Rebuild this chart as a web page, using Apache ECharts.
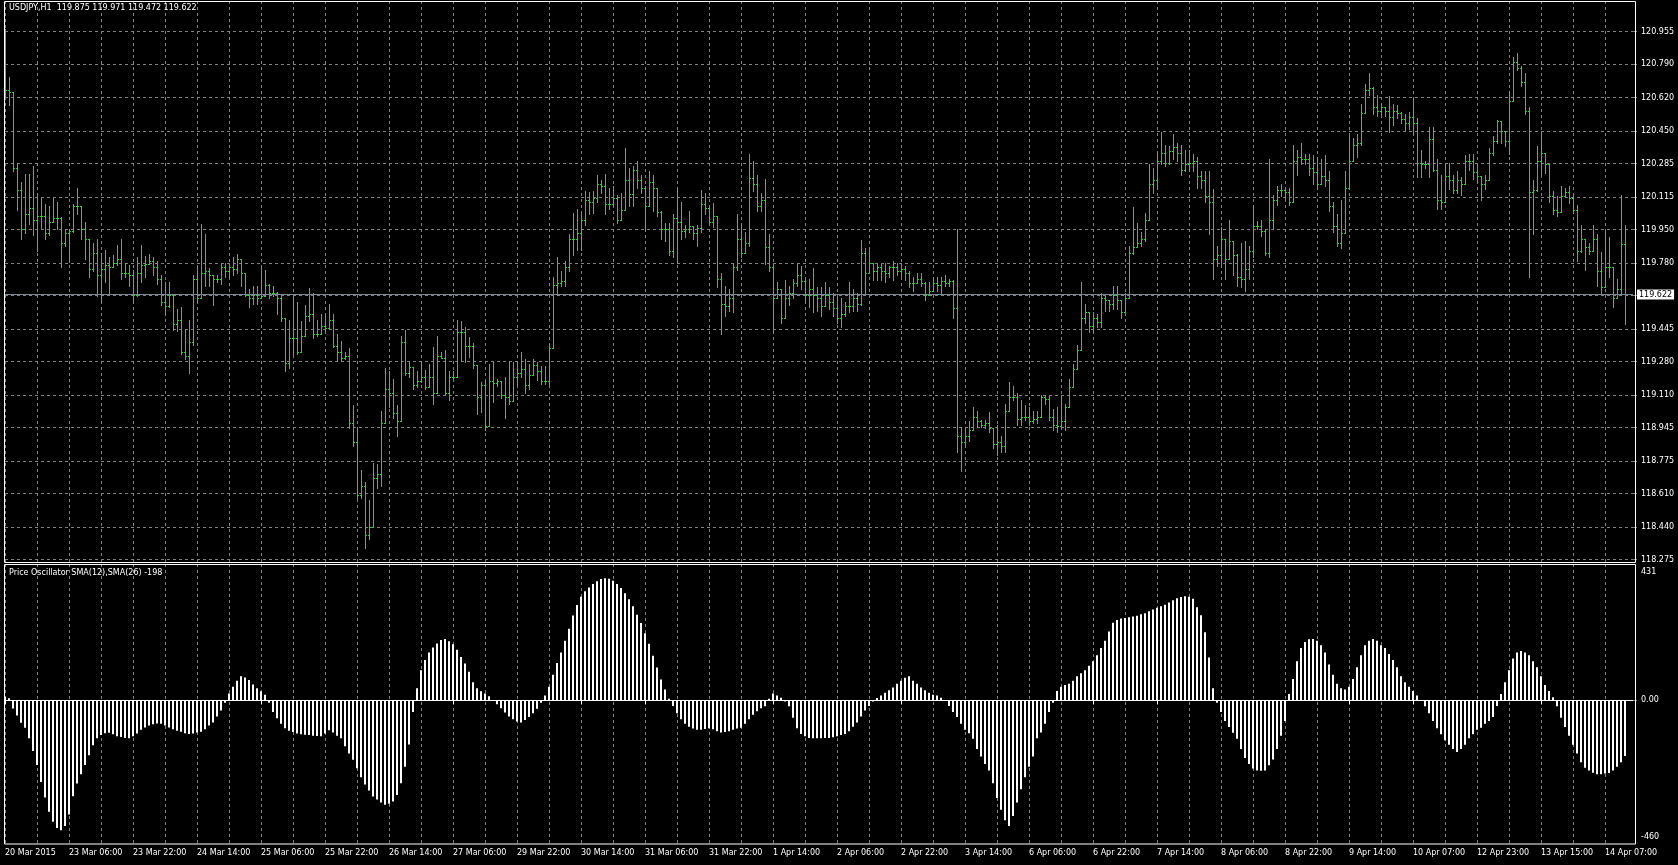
<!DOCTYPE html>
<html>
<head>
<meta charset="utf-8">
<title>USDJPY,H1</title>
<script src="https://cdn.jsdelivr.net/npm/echarts@6/dist/echarts.min.js"></script>
<style>
    html, body { margin: 0; padding: 0; background: #000; }
    #chart { width: 1678px; height: 865px; }
</style>
</head>
<body>
<div id="chart"></div>
<script>
// bottom time scale, one label every 16 hourly bars
var timeLabels = ['20 Mar 2015', '23 Mar 06:00', '23 Mar 22:00', '24 Mar 14:00', '25 Mar 06:00', '25 Mar 22:00',
    '26 Mar 14:00', '27 Mar 06:00', '29 Mar 22:00', '30 Mar 14:00', '31 Mar 06:00', '31 Mar 22:00', '1 Apr 14:00',
    '2 Apr 06:00', '2 Apr 22:00', '3 Apr 14:00', '6 Apr 06:00', '6 Apr 22:00', '7 Apr 14:00', '8 Apr 06:00',
    '8 Apr 22:00', '9 Apr 14:00', '10 Apr 07:00', '12 Apr 23:00', '13 Apr 15:00', '14 Apr 07:00'];

var closes = [
    120.66, 120.65, 120.26, 120.15, 119.95, 120.03, 120.06, 120.00, 120.02, 120.02,
    119.93, 119.99, 120.01, 120.01, 119.88, 119.93, 119.94, 120.07, 120.07, 119.95,
    119.90, 119.75, 119.83, 119.72, 119.75, 119.77, 119.76, 119.78, 119.80, 119.73,
    119.73, 119.72, 119.62, 119.73, 119.77, 119.775, 119.79, 119.76, 119.70, 119.58,
    119.56, 119.62, 119.47, 119.49, 119.33, 119.31, 119.38, 119.70, 119.60, 119.73,
    119.74, 119.72, 119.70, 119.70, 119.76, 119.74, 119.76, 119.75, 119.80, 119.73,
    119.62, 119.60, 119.62, 119.60, 119.61, 119.67, 119.63, 119.63, 119.60, 119.50,
    119.27, 119.40, 119.40, 119.33, 119.41, 119.51, 119.52, 119.42, 119.42, 119.46,
    119.45, 119.49, 119.36, 119.33, 119.30, 119.31, 118.97, 118.87, 118.60, 118.65,
    118.40, 118.44, 118.69, 118.71, 118.97, 119.14, 119.12, 119.02, 118.98, 119.38,
    119.22, 119.25, 119.16, 119.18, 119.20, 119.15, 119.20, 119.12, 119.31, 119.30,
    119.12, 119.20, 119.20, 119.43, 119.43, 119.36, 119.36, 119.26, 119.10, 119.16,
    118.95, 119.18, 119.17, 119.18, 119.11, 119.10, 119.08, 119.20, 119.22, 119.24,
    119.16, 119.21, 119.26, 119.23, 119.18, 119.18, 119.35, 119.67, 119.68, 119.69,
    119.76, 119.90, 119.90, 119.93, 120.00, 120.10, 120.09, 120.11, 120.18, 120.17,
    120.08, 120.08, 120.11, 120.00, 120.05, 120.20, 120.13, 120.25, 120.20, 120.16,
    120.07, 120.19, 120.16, 120.04, 119.95, 119.95, 119.84, 120.01, 119.99, 119.94,
    119.95, 119.97, 119.93, 119.96, 120.08, 120.06, 119.99, 120.02, 119.70, 119.57,
    119.56, 119.60, 119.76, 119.90, 119.83, 119.88, 120.21, 120.18, 120.07, 120.10,
    119.86, 119.76, 119.60, 119.65, 119.50, 119.60, 119.63, 119.68, 119.72, 119.69,
    119.62, 119.65, 119.62, 119.60, 119.56, 119.62, 119.58, 119.55, 119.50, 119.52,
    119.56, 119.56, 119.60, 119.57, 119.83, 119.73, 119.78, 119.74, 119.76, 119.74,
    119.73, 119.76, 119.76, 119.74, 119.75, 119.73, 119.68, 119.68, 119.70, 119.68,
    119.62, 119.64, 119.68, 119.67, 119.69, 119.68, 119.69, 119.55, 118.90, 118.87,
    118.90, 118.93, 119.00, 118.98, 118.96, 118.97, 118.94, 118.86, 118.87, 118.85,
    119.03, 119.10, 119.10, 118.99, 119.00, 119.00, 118.98, 118.99, 119.00, 119.10,
    119.09, 119.00, 118.96, 118.95, 118.98, 119.05, 119.15, 119.24, 119.34, 119.50,
    119.53, 119.46, 119.50, 119.48, 119.60, 119.59, 119.57, 119.62, 119.59, 119.53,
    119.60, 119.83, 119.86, 119.88, 119.90, 120.00, 120.18, 120.20, 120.30, 120.34,
    120.29, 120.35, 120.37, 120.34, 120.25, 120.28, 120.29, 120.30, 120.22, 120.20,
    120.12, 120.09, 119.80, 119.82, 119.90, 119.80, 119.89, 119.82, 119.71, 119.70,
    119.75, 119.84, 119.97, 119.97, 119.94, 119.83, 120.00, 120.10, 120.15, 120.15,
    120.14, 120.09, 120.30, 120.32, 120.31, 120.31, 120.26, 120.24, 120.18, 120.22,
    120.20, 120.07, 119.97, 119.88, 119.93, 120.16, 120.30, 120.38, 120.39, 120.54,
    120.66, 120.67, 120.57, 120.55, 120.57, 120.55, 120.52, 120.55, 120.54, 120.51,
    120.49, 120.52, 120.49, 120.29, 120.28, 120.28, 120.41, 120.25, 120.10, 120.09,
    120.22, 120.20, 120.15, 120.20, 120.18, 120.30, 120.30, 120.24, 120.22, 120.18,
    120.20, 120.34, 120.40, 120.50, 120.45, 120.40, 120.60, 120.80, 120.77, 120.70,
    120.55, 120.14, 120.15, 120.30, 120.34, 120.28, 120.12, 120.05, 120.04, 120.12,
    120.14, 120.11, 120.05, 119.84, 119.90, 119.86, 119.84, 119.90, 119.74, 119.66,
    119.76, 119.76, 119.60, 119.65, 119.875, 119.622
];

var opens = [
    120.95, 120.66, 120.65, 120.26, 120.15, 119.95, 120.03, 120.06, 120.00, 120.02,
    120.02, 119.93, 119.99, 120.01, 120.01, 119.88, 119.93, 119.94, 120.07, 120.07,
    119.95, 119.90, 119.75, 119.83, 119.72, 119.75, 119.77, 119.76, 119.78, 119.80,
    119.73, 119.73, 119.72, 119.62, 119.73, 119.77, 119.775, 119.79, 119.76, 119.70,
    119.58, 119.56, 119.62, 119.47, 119.49, 119.33, 119.31, 119.38, 119.70, 119.60,
    119.73, 119.74, 119.72, 119.70, 119.70, 119.76, 119.74, 119.76, 119.75, 119.80,
    119.73, 119.62, 119.60, 119.62, 119.60, 119.61, 119.67, 119.63, 119.63, 119.60,
    119.50, 119.27, 119.40, 119.40, 119.33, 119.41, 119.51, 119.52, 119.42, 119.42,
    119.46, 119.45, 119.49, 119.36, 119.33, 119.30, 119.31, 118.97, 118.87, 118.60,
    118.65, 118.40, 118.44, 118.69, 118.71, 118.97, 119.14, 119.12, 119.02, 118.98,
    119.38, 119.22, 119.25, 119.16, 119.18, 119.20, 119.15, 119.20, 119.12, 119.31,
    119.30, 119.12, 119.20, 119.20, 119.43, 119.43, 119.36, 119.36, 119.26, 119.10,
    119.16, 118.95, 119.18, 119.17, 119.18, 119.11, 119.10, 119.08, 119.20, 119.22,
    119.24, 119.16, 119.21, 119.26, 119.23, 119.18, 119.18, 119.35, 119.67, 119.68,
    119.69, 119.76, 119.90, 119.90, 119.93, 120.00, 120.10, 120.09, 120.11, 120.18,
    120.17, 120.08, 120.08, 120.11, 120.00, 120.05, 120.20, 120.13, 120.25, 120.20,
    120.16, 120.07, 120.19, 120.16, 120.04, 119.95, 119.95, 119.84, 120.01, 119.99,
    119.94, 119.95, 119.97, 119.93, 119.96, 120.08, 120.06, 119.99, 120.02, 119.70,
    119.57, 119.56, 119.60, 119.76, 119.90, 119.83, 119.88, 120.21, 120.18, 120.07,
    120.10, 119.86, 119.76, 119.60, 119.65, 119.50, 119.60, 119.63, 119.68, 119.72,
    119.69, 119.62, 119.65, 119.62, 119.60, 119.56, 119.62, 119.58, 119.55, 119.50,
    119.52, 119.56, 119.56, 119.60, 119.57, 119.83, 119.73, 119.78, 119.74, 119.76,
    119.74, 119.73, 119.76, 119.76, 119.74, 119.75, 119.73, 119.68, 119.68, 119.70,
    119.68, 119.62, 119.64, 119.68, 119.67, 119.69, 119.68, 119.69, 119.55, 118.90,
    118.87, 118.90, 118.93, 119.00, 118.98, 118.96, 118.97, 118.94, 118.86, 118.87,
    118.85, 119.03, 119.10, 119.10, 118.99, 119.00, 119.00, 118.98, 118.99, 119.00,
    119.10, 119.09, 119.00, 118.96, 118.95, 118.98, 119.05, 119.15, 119.24, 119.34,
    119.50, 119.53, 119.46, 119.50, 119.48, 119.60, 119.59, 119.57, 119.62, 119.59,
    119.53, 119.60, 119.83, 119.86, 119.88, 119.90, 120.00, 120.18, 120.20, 120.30,
    120.34, 120.29, 120.35, 120.37, 120.34, 120.25, 120.28, 120.29, 120.30, 120.22,
    120.20, 120.12, 120.09, 119.80, 119.82, 119.90, 119.80, 119.89, 119.82, 119.71,
    119.70, 119.75, 119.84, 119.97, 119.97, 119.94, 119.83, 120.00, 120.10, 120.15,
    120.15, 120.14, 120.09, 120.30, 120.32, 120.31, 120.31, 120.26, 120.24, 120.18,
    120.22, 120.20, 120.07, 119.97, 119.88, 119.93, 120.16, 120.30, 120.38, 120.39,
    120.54, 120.66, 120.67, 120.57, 120.55, 120.57, 120.55, 120.52, 120.55, 120.54,
    120.51, 120.49, 120.52, 120.49, 120.29, 120.28, 120.28, 120.41, 120.25, 120.10,
    120.09, 120.22, 120.20, 120.15, 120.20, 120.18, 120.30, 120.30, 120.24, 120.22,
    120.18, 120.20, 120.34, 120.40, 120.50, 120.45, 120.40, 120.60, 120.80, 120.77,
    120.70, 120.55, 120.14, 120.15, 120.30, 120.34, 120.28, 120.12, 120.05, 120.04,
    120.12, 120.14, 120.11, 120.05, 119.84, 119.90, 119.86, 119.84, 119.90, 119.74,
    119.66, 119.76, 119.76, 119.60, 119.65, 119.875
];

var highs = [
    120.97, 120.725, 120.65, 120.29, 120.19, 120.23, 120.23, 120.27, 120.12, 120.11,
    120.08, 120.07, 120.11, 120.09, 120.015, 119.955, 119.955, 120.08, 120.163, 120.07,
    119.99, 119.90, 119.88, 119.90, 119.83, 119.845, 119.81, 119.82, 119.87, 119.90,
    119.78, 119.77, 119.745, 119.81, 119.873, 119.813, 119.828, 119.81, 119.79, 119.72,
    119.683, 119.683, 119.62, 119.547, 119.556, 119.447, 119.49, 119.72, 119.764, 119.98,
    119.928, 119.755, 119.72, 119.72, 119.782, 119.782, 119.773, 119.81, 119.824, 119.80,
    119.73, 119.647, 119.665, 119.665, 119.764, 119.746, 119.674, 119.665, 119.635, 119.625,
    119.50, 119.49, 119.62, 119.583, 119.483, 119.565, 119.655, 119.628, 119.49, 119.52,
    119.52, 119.574, 119.52, 119.42, 119.384, 119.33, 119.347, 119.057, 118.948, 118.73,
    118.667, 118.577, 118.767, 118.758, 119.03, 119.248, 119.23, 119.193, 119.057, 119.41,
    119.438, 119.284, 119.25, 119.23, 119.284, 119.238, 119.266, 119.356, 119.41, 119.33,
    119.338, 119.23, 119.23, 119.49, 119.487, 119.456, 119.402, 119.374, 119.26, 119.175,
    119.184, 119.266, 119.275, 119.193, 119.18, 119.202, 119.275, 119.275, 119.284, 119.33,
    119.293, 119.266, 119.293, 119.275, 119.257, 119.257, 119.374, 119.71, 119.81, 119.737,
    119.79, 119.928, 120.036, 120.054, 120.045, 120.145, 120.14, 120.145, 120.227, 120.20,
    120.23, 120.163, 120.172, 120.127, 120.136, 120.366, 120.263, 120.272, 120.296, 120.227,
    120.172, 120.245, 120.227, 120.16, 120.045, 119.982, 119.982, 120.027, 120.163, 120.09,
    119.973, 120.045, 119.97, 119.973, 120.15, 120.136, 120.063, 120.085, 120.02, 119.728,
    119.665, 119.647, 119.782, 120.027, 119.982, 119.937, 120.335, 120.299, 120.227, 120.136,
    120.208, 119.928, 119.773, 119.683, 119.65, 119.692, 119.665, 119.701, 119.773, 119.764,
    119.71, 119.701, 119.755, 119.656, 119.656, 119.683, 119.656, 119.628, 119.61, 119.60,
    119.583, 119.683, 119.647, 119.628, 119.897, 119.855, 119.855, 119.782, 119.773, 119.773,
    119.782, 119.764, 119.79, 119.782, 119.782, 119.764, 119.737, 119.71, 119.728, 119.728,
    119.683, 119.683, 119.71, 119.71, 119.71, 119.719, 119.701, 119.692, 119.955, 118.948,
    118.948, 118.976, 119.048, 119.03, 118.985, 118.985, 119.021, 118.94, 118.957, 118.903,
    119.066, 119.175, 119.157, 119.12, 119.085, 119.057, 119.048, 119.03, 119.03, 119.112,
    119.112, 119.103, 119.039, 119.048, 119.103, 119.066, 119.193, 119.266, 119.365, 119.683,
    119.574, 119.529, 119.529, 119.52, 119.628, 119.61, 119.592, 119.665, 119.665, 119.59,
    119.628, 119.864, 120.063, 119.982, 119.937, 120.036, 120.281, 120.263, 120.344, 120.444,
    120.381, 120.372, 120.435, 120.39, 120.381, 120.353, 120.353, 120.335, 120.317, 120.245,
    120.248, 120.245, 120.154, 119.864, 119.964, 119.90, 120.00, 119.89, 119.828, 119.882,
    119.891, 119.864, 120.072, 119.991, 120.00, 119.955, 120.308, 120.127, 120.172, 120.181,
    120.163, 120.163, 120.381, 120.353, 120.39, 120.335, 120.335, 120.326, 120.317, 120.308,
    120.326, 120.245, 120.09, 120.027, 120.10, 120.245, 120.426, 120.417, 120.435, 120.589,
    120.689, 120.743, 120.671, 120.635, 120.589, 120.571, 120.626, 120.589, 120.58, 120.544,
    120.535, 120.544, 120.617, 120.517, 120.353, 120.299, 120.471, 120.471, 120.308, 120.227,
    120.29, 120.29, 120.227, 120.245, 120.218, 120.326, 120.335, 120.335, 120.281, 120.22,
    120.227, 120.363, 120.426, 120.507, 120.50, 120.45, 120.653, 120.825, 120.847, 120.78,
    120.743, 120.571, 120.20, 120.372, 120.444, 120.34, 120.28, 120.145, 120.118, 120.172,
    120.163, 120.172, 120.127, 120.072, 119.973, 119.90, 119.882, 119.973, 119.928, 119.837,
    119.937, 119.91, 119.76, 119.701, 120.127, 119.971
];

var lows = [
    120.63, 120.58, 120.245, 120.05, 119.90, 119.93, 119.98, 119.92, 119.84, 119.95,
    119.90, 119.92, 119.99, 119.955, 119.76, 119.865, 119.785, 119.935, 120.03, 119.90,
    119.80, 119.71, 119.74, 119.61, 119.58, 119.685, 119.62, 119.76, 119.77, 119.70,
    119.71, 119.665, 119.575, 119.61, 119.683, 119.71, 119.775, 119.72, 119.675, 119.565,
    119.52, 119.556, 119.44, 119.433, 119.32, 119.293, 119.22, 119.365, 119.583, 119.60,
    119.665, 119.665, 119.565, 119.683, 119.674, 119.71, 119.71, 119.72, 119.728, 119.665,
    119.61, 119.556, 119.574, 119.574, 119.60, 119.61, 119.60, 119.61, 119.52, 119.485,
    119.233, 119.248, 119.32, 119.32, 119.33, 119.41, 119.483, 119.40, 119.41, 119.42,
    119.43, 119.45, 119.356, 119.284, 119.284, 119.293, 118.94, 118.85, 118.586, 118.586,
    118.332, 118.377, 118.44, 118.64, 118.65, 118.97, 119.048, 118.994, 118.903, 118.98,
    119.211, 119.20, 119.139, 119.148, 119.175, 119.139, 119.148, 119.066, 119.12, 119.30,
    119.112, 119.085, 119.193, 119.20, 119.284, 119.275, 119.302, 119.248, 119.012, 119.021,
    118.93, 118.95, 119.075, 119.157, 119.094, 118.994, 119.066, 119.08, 119.166, 119.202,
    119.12, 119.139, 119.21, 119.184, 119.166, 119.166, 119.166, 119.35, 119.62, 119.665,
    119.665, 119.737, 119.819, 119.846, 119.846, 119.973, 120.027, 120.036, 120.09, 120.136,
    120.03, 120.054, 120.075, 119.982, 120.00, 120.05, 120.067, 120.067, 120.163, 120.136,
    119.94, 120.07, 120.045, 120.018, 119.90, 119.891, 119.819, 119.81, 119.782, 119.90,
    119.91, 119.937, 119.90, 119.864, 119.937, 120.027, 119.982, 119.964, 119.656, 119.42,
    119.51, 119.538, 119.529, 119.746, 119.81, 119.83, 119.864, 120.145, 120.045, 120.045,
    119.773, 119.737, 119.429, 119.60, 119.474, 119.50, 119.565, 119.60, 119.665, 119.647,
    119.583, 119.556, 119.529, 119.538, 119.51, 119.56, 119.547, 119.51, 119.474, 119.456,
    119.51, 119.529, 119.538, 119.538, 119.565, 119.62, 119.73, 119.692, 119.692, 119.692,
    119.683, 119.71, 119.692, 119.719, 119.71, 119.692, 119.656, 119.638, 119.68, 119.665,
    119.592, 119.62, 119.64, 119.638, 119.628, 119.665, 119.665, 119.501, 118.822, 118.722,
    118.849, 118.876, 118.93, 118.948, 118.948, 118.94, 118.921, 118.84, 118.803, 118.822,
    118.822, 119.03, 119.085, 118.957, 118.957, 118.985, 118.957, 118.967, 118.967, 119.00,
    119.066, 118.985, 118.93, 118.921, 118.94, 118.93, 119.05, 119.148, 119.24, 119.34,
    119.474, 119.429, 119.429, 119.456, 119.456, 119.538, 119.538, 119.547, 119.547, 119.501,
    119.529, 119.60, 119.828, 119.86, 119.864, 119.891, 120.00, 120.136, 120.154, 120.281,
    120.272, 120.281, 120.308, 120.299, 120.227, 120.245, 120.245, 120.245, 120.163, 120.163,
    120.09, 119.928, 119.701, 119.764, 119.773, 119.701, 119.80, 119.719, 119.665, 119.656,
    119.638, 119.701, 119.81, 119.955, 119.918, 119.819, 119.81, 119.955, 120.072, 120.118,
    120.109, 120.072, 120.09, 120.227, 120.281, 120.281, 120.227, 120.181, 120.154, 120.18,
    120.172, 120.045, 119.937, 119.864, 119.855, 119.93, 120.16, 120.299, 120.317, 120.381,
    120.54, 120.634, 120.535, 120.526, 120.535, 120.526, 120.444, 120.48, 120.517, 120.49,
    120.453, 120.462, 120.435, 120.218, 120.218, 120.263, 120.218, 120.245, 120.054, 120.054,
    120.09, 120.154, 120.136, 120.136, 120.127, 120.18, 120.254, 120.208, 120.19, 120.10,
    120.154, 120.20, 120.326, 120.39, 120.39, 120.372, 120.335, 120.60, 120.761, 120.68,
    120.535, 119.71, 119.928, 120.145, 120.227, 120.236, 120.09, 120.027, 120.018, 120.04,
    120.118, 120.082, 120.036, 119.791, 119.837, 119.746, 119.828, 119.84, 119.665, 119.628,
    119.66, 119.71, 119.556, 119.60, 119.62, 119.472
];

// Price Oscillator SMA(12),SMA(26), in points
var oscValues = [
    12, 6, -30, -55, -80, -98, -135, -180, -230, -290,
    -345, -395, -430, -452, -460, -445, -405, -340, -295, -262,
    -230, -195, -160, -135, -124, -117, -116, -121, -128, -131,
    -134, -135, -128, -118, -105, -97, -90, -86, -83, -84,
    -90, -97, -103, -109, -112, -117, -120, -118, -115, -112,
    -103, -90, -79, -58, -37, -10, 23, 47, 68, 84,
    80, 71, 55, 42, 31, 19, -10, -42, -64, -84,
    -100, -109, -113, -118, -121, -123, -124, -126, -127, -128,
    -118, -107, -115, -126, -135, -163, -189, -211, -241, -273,
    -299, -320, -341, -352, -362, -370, -367, -359, -336, -294,
    -236, -157, -42, 42, 105, 142, 168, 186, 200, 212,
    216, 208, 197, 178, 152, 129, 100, 63, 42, 31,
    23, 13, 0, -15, -29, -44, -58, -68, -76, -79,
    -71, -60, -47, -31, -10, 16, 47, 89, 131, 168,
    210, 252, 299, 336, 365, 385, 398, 410, 420, 428,
    431, 429, 422, 410, 396, 378, 356, 332, 302, 272,
    236, 199, 157, 115, 73, 37, 5, -21, -47, -68,
    -84, -94, -101, -105, -105, -102, -100, -103, -110, -115,
    -113, -110, -105, -101, -98, -84, -68, -52, -40, -29,
    -22, 5, 23, 16, 8, -5, -22, -63, -100, -120,
    -128, -134, -135, -135, -135, -134, -134, -132, -128, -124,
    -120, -110, -94, -79, -58, -37, -21, -5, 7, 16,
    26, 35, 44, 58, 68, 79, 84, 68, 58, 44,
    35, 26, 19, 16, 8, 0, -21, -42, -60, -84,
    -105, -117, -137, -173, -200, -226, -249, -294, -346, -388,
    -425, -445, -410, -362, -315, -273, -236, -200, -135, -115,
    -84, -42, -10, 32, 47, 53, 58, 68, 84, 95,
    105, 121, 137, 158, 184, 210, 242, 273, 283, 288,
    290, 293, 295, 298, 303, 307, 314, 320, 326, 332,
    337, 345, 353, 360, 364, 367, 365, 358, 328, 300,
    240, 150, 42, -10, -42, -74, -95, -116, -137, -173,
    -205, -226, -242, -249, -250, -249, -231, -210, -173, -126,
    -74, 21, 74, 137, 184, 205, 215, 216, 210, 194,
    168, 126, 89, 58, 42, 37, 47, 74, 116, 158,
    194, 210, 216, 210, 194, 184, 163, 142, 116, 84,
    63, 47, 32, 16, 0, -22, -47, -74, -100, -121,
    -142, -158, -173, -184, -173, -158, -135, -121, -105, -98,
    -84, -74, -60, -21, 21, 63, 105, 147, 168, 173,
    168, 158, 137, 116, 84, 53, 32, 10, -22, -63,
    -95, -126, -158, -189, -220, -239, -249, -257, -262, -262,
    -260, -258, -249, -236, -220, -198
];

// right scale of the price window (119.615 is covered by the bid label)
var priceTicks = [118.275, 118.440, 118.610, 118.775, 118.945, 119.110, 119.280, 119.445, 119.615,
    119.780, 119.950, 120.115, 120.285, 120.450, 120.620, 120.790, 120.955];
var priceLabels = [118.275, 118.440, 118.610, 118.775, 118.945, 119.110, 119.280, 119.445,
    119.780, 119.950, 120.115, 120.285, 120.450, 120.620, 120.790, 120.955];
var oscLabels = [-460, 0, 431];
var lastBid = 119.622;

var chart = echarts.init(document.getElementById('chart'));

var FONT = 'DejaVu Sans';
var GRID_COLOR = '#808080';
var BAR_COLOR = '#33cc33';
var last = closes.length - 1;

// two empty slots on the right = chart shift
var categories = [];
for (var k = 0; k < closes.length + 2; k++) {
    categories.push(k);
}

var ohlc = closes.map(function(c, i) {
    return [i, opens[i], highs[i], lows[i], c];
});

function renderBar(params, api) {
    var idx = api.value(0);
    var x = Math.round(api.coord([idx, api.value(2)])[0]);
    var yh = Math.round(api.coord([idx, api.value(2)])[1]);
    var yl = Math.round(api.coord([idx, api.value(3)])[1]);
    var yo = Math.round(api.coord([idx, api.value(1)])[1]);
    var yc = Math.round(api.coord([idx, api.value(4)])[1]);
    var st = { fill: BAR_COLOR };
    return {
        type: 'group',
        children: [
            { type: 'rect', shape: { x: x, y: yh, width: 1, height: Math.max(1, yl - yh + 1) }, style: st },
            { type: 'rect', shape: { x: x - 1, y: yo, width: 1, height: 1 }, style: st },
            { type: 'rect', shape: { x: x + 1, y: yc, width: 1, height: 1 }, style: st }
        ]
    };
}

var dashed = { color: GRID_COLOR, type: [3, 3], width: 1 };

var option = {
    backgroundColor: '#000',
    animation: false,
    textStyle: { fontFamily: FONT },
    title: [
        {
            text: 'USDJPY,H1  ' + [opens[last], highs[last], lows[last], closes[last]].map(function(v) { return v.toFixed(3); }).join(' '),
            left: 9, top: 4, padding: 0,
            textStyle: { color: '#fff', fontSize: 8, fontWeight: 'normal', fontFamily: FONT }
        },
        {
            text: 'Price Oscillator SMA(12),SMA(26) ' + oscValues[last],
            left: 9, top: 569, padding: 0,
            textStyle: { color: '#fff', fontSize: 8, fontWeight: 'normal', fontFamily: FONT }
        }
    ],
    grid: [
        { left: 5, right: 45, top: 1, height: 561 },
        { left: 5, right: 45, top: 564, height: 280 }
    ],
    xAxis: [
        {
            type: 'category', gridIndex: 0, data: categories, boundaryGap: false,
            axisLine: { show: false }, axisTick: { show: false }, axisLabel: { show: false },
            splitLine: { show: true, interval: 7, lineStyle: dashed }
        },
        {
            type: 'category', gridIndex: 1, data: categories, boundaryGap: false,
            axisLine: { show: true, lineStyle: { color: '#fff', width: 1 } },
            axisTick: { show: true, interval: 15, length: 4, lineStyle: { color: '#fff' } },
            axisLabel: {
                interval: 15, color: '#fff', fontSize: 8, fontFamily: FONT, align: 'left', margin: 5,
                formatter: function(v, idx) { return timeLabels[idx / 16] || ''; }
            },
            splitLine: { show: true, interval: 7, lineStyle: dashed }
        }
    ],
    yAxis: [
        {
            type: 'value', gridIndex: 0, position: 'right', min: 118.262, max: 121.110, scale: true,
            axisLine: { show: false },
            axisTick: { show: true, customValues: priceTicks, length: 4, lineStyle: { color: GRID_COLOR } },
            axisLabel: {
                customValues: priceLabels, color: '#fff', fontSize: 8, fontFamily: FONT, margin: 8,
                padding: [3, 0, 0, 0],
                formatter: function(v) { return v.toFixed(3); }
            },
            splitLine: { show: true, lineStyle: dashed }
        },
        {
            type: 'value', gridIndex: 1, position: 'right', min: -509, max: 481,
            axisLine: { show: false },
            axisTick: { show: true, customValues: [0], length: 4, lineStyle: { color: GRID_COLOR } },
            axisLabel: {
                customValues: oscLabels, color: '#fff', fontSize: 8, fontFamily: FONT, margin: 8,
                // max label hangs from the window top, min label sits on the window bottom
                formatter: function(v) {
                    if (v === 0) return '0.00';
                    return v > 0 ? '{up|' + v + '}' : '{down|' + v + '}';
                },
                rich: {
                    up: { color: '#fff', fontSize: 8, fontFamily: FONT, padding: [0, 0, 12, 0] },
                    down: { color: '#fff', fontSize: 8, fontFamily: FONT, padding: [14, 0, 0, 0] }
                }
            },
            splitLine: { show: true, lineStyle: dashed }
        }
    ],
    series: [
        {
            name: 'USDJPY,H1', type: 'custom', xAxisIndex: 0, yAxisIndex: 0,
            data: ohlc, renderItem: renderBar, encode: { x: 0, y: [1, 2, 3, 4] },
            silent: true, clip: false, z: 3,
            markLine: {
                silent: true, symbol: 'none', animation: false,
                lineStyle: { color: '#778899', type: 'solid', width: 1 },
                label: {
                    show: true, position: 'end', distance: 4,
                    formatter: lastBid.toFixed(3),
                    color: '#000', backgroundColor: '#fff', padding: [1, 2, 1, 2],
                    fontSize: 8, fontFamily: FONT
                },
                data: [{ yAxis: lastBid }]
            }
        },
        {
            name: 'Price Oscillator', type: 'bar', xAxisIndex: 1, yAxisIndex: 1,
            data: oscValues, barWidth: 2, silent: true, clip: false,
            itemStyle: { color: '#fff' }
        }
    ],
    graphic: [
        {
            type: 'rect', silent: true, z: 100,
            shape: { x: 4.5, y: 1.5, width: 1631, height: 561 },
            style: { fill: null, stroke: '#fff', lineWidth: 1 }
        },
        {
            type: 'rect', silent: true, z: 100,
            shape: { x: 4.5, y: 564.5, width: 1631, height: 279.5 },
            style: { fill: null, stroke: '#fff', lineWidth: 1 }
        }
    ]
};

chart.setOption(option);
</script>
</body>
</html>
